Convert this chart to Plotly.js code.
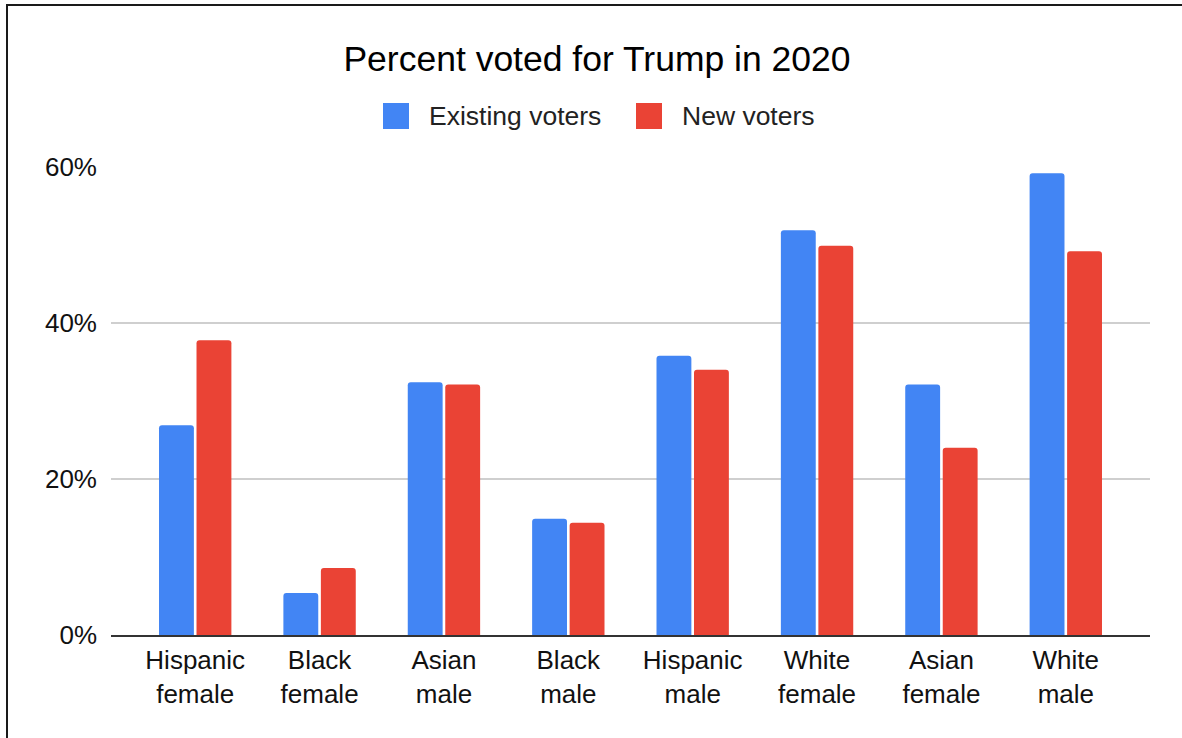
<!DOCTYPE html>
<html>
<head>
<meta charset="utf-8">
<script src="https://cdn.plot.ly/plotly-3.0.1.min.js"></script>
<style>
  html, body { margin: 0; padding: 0; background: #fff; }
  #chart { width: 1182px; height: 738px; position: absolute; left: 0; top: 0; }
  #frame { position: absolute; left: 6px; top: 4px; width: 1176px; height: 734px;
           border-left: 2px solid #1a1a1a; border-top: 2px solid #1a1a1a;
           box-sizing: border-box; pointer-events: none; }
</style>
</head>
<body>
<div id="chart"></div>
<div id="frame"></div>
<script>
// ---- data ----
const categories = ["Hispanic<br>female", "Black<br>female", "Asian<br>male", "Black<br>male",
                    "Hispanic<br>male", "White<br>female", "Asian<br>female", "White<br>male"];
const seriesNames = ["Existing voters", "New voters"];
const existingVoters = [26.9, 5.4, 32.4, 14.9, 35.8, 51.9, 32.1, 59.2];
const newVoters = [37.8, 8.6, 32.1, 14.4, 34.0, 49.9, 24.0, 49.2];
const yTicks = [0, 20, 40, 60];
const yTickLabels = ["0%", "20%", "40%", "60%"];

// ---- style ----
const colors = ["#4285F4", "#EA4335"];
const FONT = "Liberation Sans, Arial, Helvetica, sans-serif";
const W = 1182, H = 738;
const M = { l: 111, r: 32, t: 167, b: 103 };
const plotW = W - M.l - M.r, plotH = H - M.t - M.b;
const px2x = px => (px - M.l) / plotW;
const py2y = py => (H - M.b - py) / plotH;

const traces = [
  { type: "bar", name: seriesNames[0], x: categories, y: existingVoters,
    marker: { color: colors[0] }, hoverinfo: "x+y" },
  { type: "bar", name: seriesNames[1], x: categories, y: newVoters,
    marker: { color: colors[1] }, hoverinfo: "x+y" }
];

// manual legend (large rounded swatches like the reference)
const legendSwatchX = [383, 636];
const legendTextX = [427, 680];
const legendY = 116;
const shapes = [];
const annotations = [];
seriesNames.forEach((name, i) => {
  shapes.push({
    type: "rect", xref: "paper", yref: "paper", layer: "above",
    x0: px2x(legendSwatchX[i]), x1: px2x(legendSwatchX[i] + 26),
    y0: py2y(legendY + 13), y1: py2y(legendY - 13),
    fillcolor: colors[i], line: { width: 0 }
  });
  annotations.push({
    xref: "paper", yref: "paper", x: px2x(legendTextX[i]), y: py2y(legendY),
    xanchor: "left", yanchor: "middle", showarrow: false, text: name,
    font: { family: FONT, size: 26.5, color: "#222" }
  });
});

const layout = {
  width: W, height: H,
  paper_bgcolor: "rgba(0,0,0,0)", plot_bgcolor: "rgba(0,0,0,0)",
  margin: M,
  showlegend: false,
  title: {
    text: "Percent voted for Trump in 2020",
    font: { family: FONT, size: 35.5, color: "#000" },
    x: 597 / W, xanchor: "center", xref: "container",
    y: 1 - 59 / H, yanchor: "middle", yref: "container"
  },
  barmode: "group", bargap: 0.397, bargroupgap: 0.07, barcornerradius: 3,
  xaxis: {
    type: "category", range: [-0.677, 7.677],
    showgrid: false, zeroline: false,
    showline: true, linecolor: "#333", linewidth: 2,
    ticks: "", ticklabelstandoff: 1,
    tickfont: { family: FONT, size: 26, color: "#111" }
  },
  yaxis: {
    range: [0, 60], tickmode: "array", tickvals: yTicks, ticktext: yTickLabels,
    showgrid: true, gridcolor: "#cfcfcf", gridwidth: 1.5,
    zeroline: false, showline: false, ticks: "", ticklabelstandoff: 13,
    tickfont: { family: FONT, size: 26, color: "#111" }
  },
  shapes: shapes,
  annotations: annotations
};

Plotly.newPlot("chart", traces, layout, { displayModeBar: false, staticPlot: true });
</script>
</body>
</html>
